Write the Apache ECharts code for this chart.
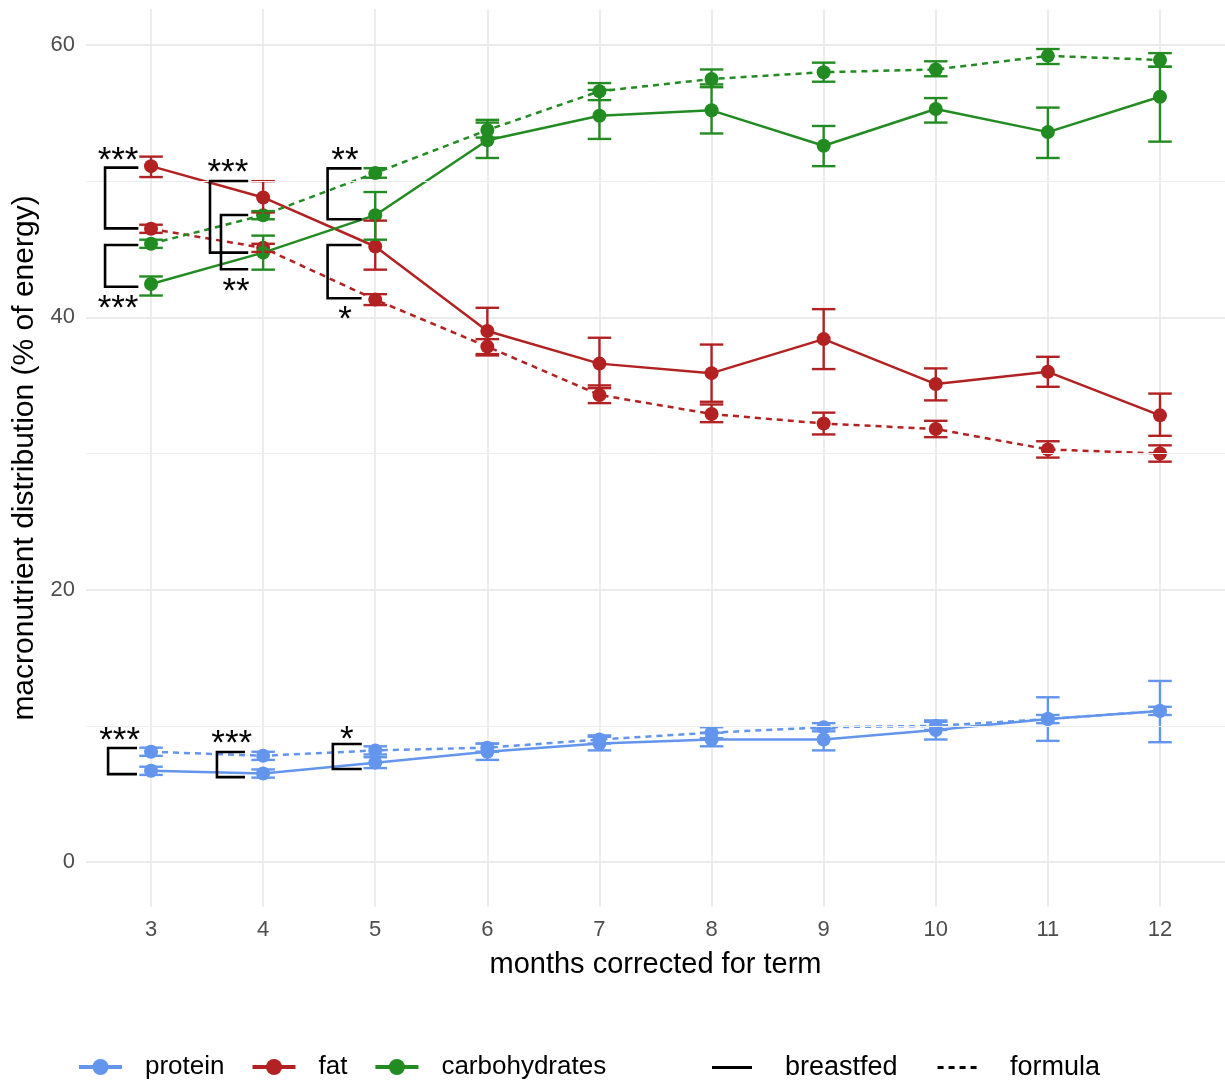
<!DOCTYPE html>
<html>
<head>
<meta charset="utf-8">
<script src="https://cdn.jsdelivr.net/npm/echarts@6/dist/echarts.min.js"></script>
<style>
html,body{margin:0;padding:0;background:#fff;}
#chart{width:1225px;height:1083px;}
</style>
</head>
<body>
<div id="chart"></div>
<script>
// ---------- data ----------
const months = [3, 4, 5, 6, 7, 8, 9, 10, 11, 12];

const proteinBF    = [6.7, 6.5, 7.3, 8.1, 8.7, 9.0, 9.0, 9.7, 10.5, 11.1];
const proteinBFLo  = [6.4, 6.2, 6.9, 7.5, 8.2, 8.5, 8.2, 9.0, 8.9, 8.8];
const proteinBFHi  = [7.0, 6.8, 7.7, 8.7, 9.2, 9.5, 9.8, 10.4, 12.1, 13.3];
const proteinF     = [8.1, 7.8, 8.2, 8.4, 9.0, 9.5, 9.9, 10.0, 10.5, 11.1];
const proteinFLo   = [7.8, 7.5, 7.9, 8.1, 8.7, 9.1, 9.6, 9.7, 10.2, 10.8];
const proteinFHi   = [8.4, 8.1, 8.5, 8.7, 9.3, 9.9, 10.2, 10.3, 10.8, 11.4];

const fatBF        = [51.1, 48.8, 45.2, 39.0, 36.6, 35.9, 38.4, 35.1, 36.0, 32.8];
const fatBFLo      = [50.3, 47.7, 43.5, 37.3, 34.8, 33.8, 36.2, 33.9, 34.9, 31.3];
const fatBFHi      = [51.8, 50.0, 47.1, 40.7, 38.5, 38.0, 40.6, 36.25, 37.1, 34.4];
const fatF         = [46.5, 45.1, 41.3, 37.85, 34.3, 32.9, 32.2, 31.8, 30.3, 30.0];
const fatFLo       = [46.2, 44.8, 40.9, 37.2, 33.7, 32.3, 31.4, 31.2, 29.7, 29.4];
const fatFHi       = [46.8, 45.4, 41.7, 38.4, 35.0, 33.6, 33.0, 32.4, 30.9, 30.6];

const carbsBF      = [42.45, 44.75, 47.5, 53.0, 54.8, 55.2, 52.6, 55.3, 53.6, 56.2];
const carbsBFLo    = [41.6, 43.5, 45.7, 51.7, 53.1, 53.5, 51.1, 54.3, 51.7, 52.9];
const carbsBFHi    = [43.0, 46.0, 49.2, 54.5, 56.7, 57.1, 54.05, 56.1, 55.4, 58.4];
const carbsF       = [45.4, 47.5, 50.6, 53.75, 56.6, 57.5, 58.0, 58.2, 59.2, 58.9];
const carbsFLo     = [45.1, 47.2, 50.25, 53.2, 55.95, 56.9, 57.3, 57.7, 58.6, 58.4];
const carbsFHi     = [45.7, 47.8, 50.95, 54.3, 57.2, 58.2, 58.7, 58.8, 59.7, 59.4];

// significance brackets (data units)
const bracketLeft   = [2.59, 2.59, 3.526, 3.624, 4.575, 4.575, 2.617, 3.588, 4.622];
const bracketRight  = [2.887, 2.887, 3.867, 3.867, 4.878, 4.878, 2.875, 3.838, 4.88];
const bracketTop    = [50.99, 45.31, 50.01, 47.51, 50.94, 45.31, 8.37, 8.08, 8.67];
const bracketBottom = [46.53, 42.25, 44.75, 43.53, 47.2, 41.4, 6.46, 6.24, 6.83];
const starLabels    = ['***', '***', '***', '**', '**', '*', '***', '***', '*'];
const starX         = [2.706, 2.706, 3.686, 3.758, 4.73, 4.73, 2.72, 3.72, 4.747];
const starY         = [52.07, 41.15, 51.19, 42.4, 52.07, 40.34, 9.47, 9.25, 9.55];

const minorGridValues = [10, 30, 50];
const nutrientNames = ['protein', 'fat', 'carbohydrates'];
const typeNames = ['breastfed', 'formula'];

// ---------- styles ----------
const COL = { protein: '#6495ED', fat: '#B22222', carbohydrates: '#228B22' };
const DASH = [6, 5];
const FONT = 'Liberation Sans, Arial, sans-serif';

function lineSeries(name, ys, dashed) {
  return {
    type: 'line', name: name,
    data: months.map((m, i) => [m, ys[i]]),
    symbol: 'circle', symbolSize: 14,
    itemStyle: { color: COL[name] },
    lineStyle: { color: COL[name], width: 2.5, type: dashed ? DASH : 'solid' },
    z: 3
  };
}

function errorSeries(name, lo, hi) {
  return {
    type: 'custom', name: 'eb-' + name,
    data: months.map((m, i) => [m, lo[i], hi[i]]),
    encode: { x: 0, y: [1, 2] },
    z: 4,
    renderItem: function (params, api) {
      const x = api.value(0);
      const pLo = api.coord([x, api.value(1)]);
      const pHi = api.coord([x, api.value(2)]);
      const half = api.size([0.21, 0])[0] / 2;
      const st = { stroke: COL[name], lineWidth: 2.4 };
      return {
        type: 'group',
        children: [
          { type: 'line', shape: { x1: pLo[0], y1: pLo[1], x2: pHi[0], y2: pHi[1] }, style: st },
          { type: 'line', shape: { x1: pHi[0] - half, y1: pHi[1], x2: pHi[0] + half, y2: pHi[1] }, style: st },
          { type: 'line', shape: { x1: pLo[0] - half, y1: pLo[1], x2: pLo[0] + half, y2: pLo[1] }, style: st }
        ]
      };
    }
  };
}

const bracketSeries = {
  type: 'custom', name: 'brackets',
  data: bracketLeft.map((l, i) => [l, bracketRight[i], bracketTop[i], bracketBottom[i], starX[i], starY[i]]),
  encode: { x: [0, 1, 4], y: [2, 3, 5] },
  z: 5,
  renderItem: function (params, api) {
    const l = api.value(0), r = api.value(1), t = api.value(2), b = api.value(3);
    const pTL = api.coord([l, t]), pTR = api.coord([r, t]);
    const pBL = api.coord([l, b]), pBR = api.coord([r, b]);
    const pS = api.coord([api.value(4), api.value(5)]);
    return {
      type: 'group',
      children: [
        { type: 'polyline',
          shape: { points: [pTR, pTL, pBL, pBR] },
          style: { stroke: '#000', lineWidth: 2.6, fill: null } },
        { type: 'text',
          style: { text: starLabels[params.dataIndex], x: pS[0], y: pS[1] + 8,
                   font: '35px ' + FONT, fill: '#000', align: 'center', verticalAlign: 'middle' } }
      ]
    };
  }
};

const series = [
  { type: 'line', name: 'breastfed', data: [], symbol: 'none',
    itemStyle: { color: '#000' }, lineStyle: { color: '#000', width: 2.6, type: 'solid' },
    markLine: { silent: true, symbol: 'none', label: { show: false },
      lineStyle: { color: '#ededed', width: 1, type: 'solid' },
      data: minorGridValues.map(v => ({ yAxis: v })) } },
  { type: 'line', name: 'formula', data: [], symbol: 'none',
    itemStyle: { color: '#000' }, lineStyle: { color: '#000', width: 2.6, type: DASH } },
  lineSeries('protein', proteinBF, false),
  lineSeries('protein', proteinF, true),
  lineSeries('fat', fatBF, false),
  lineSeries('fat', fatF, true),
  lineSeries('carbohydrates', carbsBF, false),
  lineSeries('carbohydrates', carbsF, true),
  errorSeries('protein', proteinBFLo, proteinBFHi),
  errorSeries('protein', proteinFLo, proteinFHi),
  errorSeries('fat', fatBFLo, fatBFHi),
  errorSeries('fat', fatFLo, fatFHi),
  errorSeries('carbohydrates', carbsBFLo, carbsBFHi),
  errorSeries('carbohydrates', carbsFLo, carbsFHi),
  bracketSeries
];

const isMult = (v, k) => Math.abs(v / k - Math.round(v / k)) < 1e-6;

const SOLID_ICON = 'path://M0 0H40V3H0Z';
const DASH_ICON = 'path://M0 0H6V3H0Z M11 0H17V3H11Z M22 0H28V3H22Z M33 0H39V3H33Z';

const option = {
  animation: false,
  backgroundColor: '#fff',
  textStyle: { fontFamily: FONT },
  grid: { left: 86, right: 0, top: 9, bottom: 176, containLabel: false },
  xAxis: {
    type: 'value', min: 2.42, max: 12.58, splitNumber: 10,
    axisLine: { show: false }, axisTick: { show: false },
    splitLine: { show: true, showMinLine: false, showMaxLine: false, lineStyle: { color: '#ebebeb', width: 1.8 } },
    axisLabel: { color: '#4d4d4d', fontSize: 22, margin: 12, showMinLabel: false, showMaxLabel: false,
      formatter: v => isMult(v, 1) ? String(Math.round(v)) : '' },
    name: 'months corrected for term', nameLocation: 'middle', nameGap: 43,
    nameTextStyle: { color: '#000', fontSize: 29 }
  },
  yAxis: {
    type: 'value', min: -3.3, max: 62.64, splitNumber: 3,
    axisLine: { show: false }, axisTick: { show: false },
    splitLine: { show: true, showMinLine: false, showMaxLine: false, lineStyle: { color: '#ebebeb', width: 1.8 } },
    axisLabel: { color: '#4d4d4d', fontSize: 22, margin: 11, showMinLabel: false, showMaxLabel: false,
      formatter: v => isMult(v, 20) ? String(Math.round(v)) : '' },
    name: 'macronutrient distribution (% of energy)', nameLocation: 'middle', nameGap: 42,
    nameTextStyle: { color: '#000', fontSize: 30 }
  },
  legend: [
    { data: nutrientNames, left: 77, top: 1054, padding: 0, itemWidth: 43, itemHeight: 20, itemGap: 26,
      lineStyle: { width: 4 },
      textStyle: { color: '#000', fontSize: 26, padding: [0, 0, 0, 18] } },
    { data: [{ name: typeNames[0], icon: SOLID_ICON }, { name: typeNames[1], icon: DASH_ICON }],
      left: 712, top: 1054, padding: 0, itemWidth: 40, itemHeight: 3, itemGap: 40,
      textStyle: { color: '#000', fontSize: 27, padding: [0, 0, 0, 28] } }
  ],
  series: series
};

const chart = echarts.init(document.getElementById('chart'), null, { renderer: 'canvas' });
chart.setOption(option);
</script>
</body>
</html>
